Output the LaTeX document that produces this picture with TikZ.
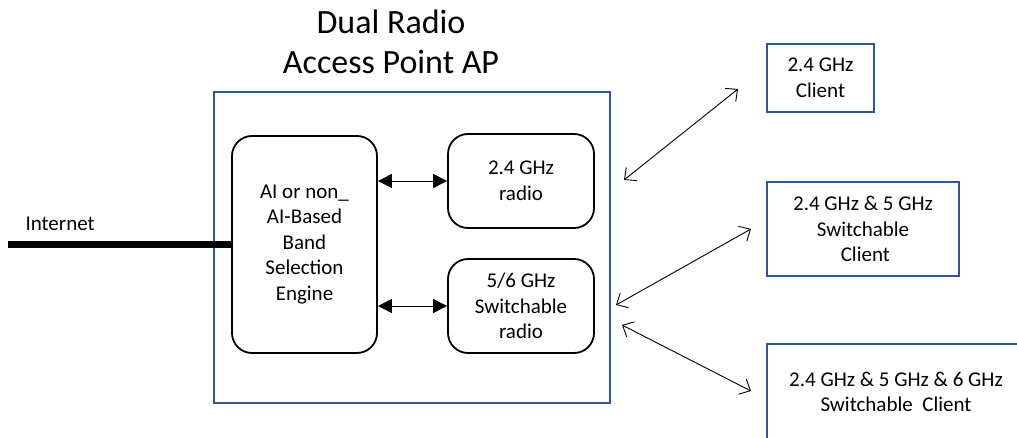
\documentclass[tikz,border=0pt]{standalone}
\usepackage{fontspec}
\setmainfont{Carlito}
\usetikzlibrary{arrows.meta, positioning}
\definecolor{apblue}{RGB}{47,85,151}

\begin{document}
\begin{tikzpicture}[x=1pt, y=-1pt,
    txt/.style={font=\fontsize{21}{25.5}\selectfont, align=center},
    apbox/.style={draw=apblue, line width=2pt, inner sep=0pt},
    block/.style={txt, draw, line width=1.8pt, rounded corners=20pt, inner sep=0pt},
    client/.style={txt, draw=apblue, line width=2.5pt, inner sep=0pt},
    link/.style={{Straight Barb[length=9pt,width=17pt]}-{Straight Barb[length=9pt,width=17pt]}, line width=0.9pt},
    bus/.style={{Triangle[length=14pt,width=14pt]}-{Triangle[length=14pt,width=14pt]}, line width=0.9pt}
  ]
        \clip (0,0) rectangle (1017,438);
        \node[font=\fontsize{34}{40}\selectfont, align=center] (title) at (391,42) {Dual Radio\\Access Point AP};
        \node[apbox, minimum width=396pt, minimum height=310pt] (ap) at (412,247.5) {};
        \node[block, minimum width=145pt, minimum height=217pt] (engine) at (304.5,244.5)
            {AI or non\_\\AI-Based\\Band\\Selection\\Engine};
        \node[block, minimum width=146pt, minimum height=94pt] (radioa) at (521,181) {2.4 GHz\\radio};
        \node[block, minimum width=146pt, minimum height=94pt] (radiob) at (521,306) {5/6 GHz\\Switchable\\radio};
        \draw[bus] (engine.east |- radioa) -- (radioa.west);
        \draw[bus] (engine.east |- radiob) -- (radiob.west);
        % internet feed
        \coordinate (inet) at (8,244.5);
        \node[txt, above right=10pt and 14pt of inet] (inetlabel) {Internet};
        \draw[line width=7pt] (inet) -- (engine.west);
        % clients
        \node[client, minimum width=107pt, minimum height=68pt] (clienta) at (820.5,78) {2.4 GHz\\Client};
        \node[client, minimum width=192pt, minimum height=94pt] (clientb) at (863,229) {2.4 GHz \& 5 GHz\\Switchable\\\ Client};
        \node[client, minimum width=264pt, minimum height=110pt] (clientc) at (899,399) {};
        \node[txt] (clientctext) at (896,392) {2.4 GHz \& 5 GHz \& 6 GHz\\Switchable\ \ Client};
        \coordinate (apa) at (624,180);
        \coordinate (apb) at (616,305);
        \coordinate (apc) at (622,325);
        \coordinate (ca) at (738,89);
        \coordinate (cb) at (751,229);
        \coordinate (cc) at (751,391);
        \draw[link] (apa) -- (ca);
        \draw[link] (apb) -- (cb);
        \draw[link] (apc) -- (cc);
\end{tikzpicture}
\end{document}
